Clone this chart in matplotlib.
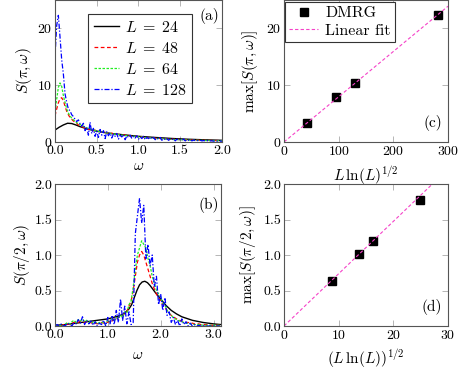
import numpy as np
import matplotlib
matplotlib.use("Agg")
import matplotlib.pyplot as plt

plt.rcParams['font.family'] = ['cmr10', 'DejaVu Serif']
plt.rcParams['mathtext.fontset'] = 'cm'
plt.rcParams['axes.formatter.use_mathtext'] = True
plt.rcParams['font.size'] = 10

# ---------------- data ----------------
# panel (a): S(pi, omega)
w_a = np.linspace(0.0, 2.0, 101)
w_a24 = [0, 0.05, 0.1, 0.15, 0.2, 0.25, 0.3, 0.4, 0.5, 0.6, 0.7, 0.8, 0.9, 1.0,
         1.2, 1.4, 1.6, 1.8, 2.0]
s_a24 = [2.1, 2.6, 3.0, 3.3, 3.25, 3.0, 2.7, 2.25, 1.9, 1.65, 1.45, 1.3, 1.15, 1.0,
         0.8, 0.62, 0.48, 0.38, 0.3]
s_a48 = [4.6, 5.8, 6.9, 7.6, 7.8, 7.3, 6.3, 5.4, 4.8, 4.3, 4.0, 3.7, 3.5, 3.3, 3.0,
         2.9, 2.7, 2.6, 2.5, 2.4, 2.2, 2.3, 2.1, 2.0, 2.1, 1.9, 1.85, 1.9, 1.75, 1.8,
         1.7, 1.6, 1.65, 1.5, 1.55, 1.45, 1.4, 1.45, 1.3, 1.35, 1.25, 1.2, 1.25, 1.1,
         1.15, 1.05, 1.0, 1.05, 0.95, 1.0, 0.9, 0.88, 0.92, 0.82, 0.85, 0.78, 0.75,
         0.8, 0.7, 0.72, 0.66, 0.64, 0.68, 0.6, 0.62, 0.56, 0.55, 0.58, 0.5, 0.52,
         0.48, 0.46, 0.5, 0.44, 0.45, 0.41, 0.4, 0.43, 0.38, 0.39, 0.36, 0.35, 0.37,
         0.33, 0.34, 0.32, 0.31, 0.33, 0.3, 0.3, 0.28, 0.28, 0.29, 0.27, 0.27, 0.26,
         0.25, 0.26, 0.25, 0.24, 0.24]
s_a64 = [5.4, 7.5, 9.6, 10.4, 9.8, 8.2, 7.0, 5.8, 5.1, 4.6, 4.2, 3.9, 3.7, 3.4, 3.2,
         3.1, 2.9, 2.8, 2.6, 2.5, 2.4, 2.3, 2.2, 2.2, 2.0, 2.0, 1.9, 1.85, 1.8, 1.75,
         1.7, 1.6, 1.55, 1.5, 1.45, 1.4, 1.38, 1.3, 1.32, 1.25, 1.2, 1.22, 1.15,
         1.1, 1.12, 1.05, 1.0, 1.02, 0.95, 0.92, 0.9, 0.85, 0.88, 0.8, 0.78, 0.76,
         0.72, 0.75, 0.68, 0.66, 0.64, 0.6, 0.63, 0.57, 0.55, 0.56, 0.5, 0.52, 0.48,
         0.46, 0.47, 0.43, 0.42, 0.44, 0.4, 0.38, 0.4, 0.36, 0.35, 0.36, 0.33, 0.32,
         0.33, 0.31, 0.3, 0.31, 0.29, 0.28, 0.29, 0.27, 0.27, 0.26, 0.27, 0.25, 0.25,
         0.24, 0.25, 0.23, 0.23, 0.22, 0.22]
s_a128 = [15.0, 20.5, 22.3, 18.5, 14.5, 12.0, 8.5, 7.0, 5.8, 5.5, 4.8, 4.5, 4.0, 3.6,
          3.9, 3.2, 2.8, 3.3, 2.0, 2.6, 1.2, 3.5, 1.5, 2.4, 1.0, 1.9, 0.8, 2.2, 1.2,
          2.0, 0.6, 1.8, 1.1, 1.6, 0.7, 1.4, 1.0, 1.5, 0.5, 1.2, 0.9, 1.3, 0.4, 1.1,
          0.8, 1.2, 0.6, 1.0, 0.7, 1.1, 0.5, 0.9, 0.6, 1.0, 0.4, 0.8, 0.6, 0.9, 0.5,
          0.8, 0.4, 0.7, 0.5, 0.8, 0.3, 0.6, 0.4, 0.6, 0.3, 0.5, 0.4, 0.6, 0.2, 0.5,
          0.3, 0.4, 0.3, 0.5, 0.2, 0.4, 0.3, 0.4, 0.2, 0.35, 0.25, 0.3, 0.2, 0.3,
          0.2, 0.25, 0.2, 0.25, 0.15, 0.2, 0.2, 0.15, 0.2, 0.15, 0.2, 0.15, 0.15]

# panel (b): S(pi/2, omega)
w_b = np.linspace(0.0, 3.12, 79)
w_b24 = [0, 0.2, 0.4, 0.6, 0.8, 1.0, 1.1, 1.2, 1.3, 1.4, 1.45, 1.5, 1.55, 1.6, 1.65,
         1.7, 1.75, 1.8, 1.85, 1.9, 2.0, 2.1, 2.2, 2.3, 2.4, 2.6, 2.8, 3.0, 3.14]
s_b24 = [0.01, 0.02, 0.04, 0.06, 0.08, 0.1, 0.12, 0.14, 0.17, 0.24, 0.3, 0.4, 0.5,
         0.58, 0.62, 0.63, 0.61, 0.57, 0.52, 0.47, 0.38, 0.29, 0.22, 0.17, 0.13,
         0.08, 0.05, 0.03, 0.02]
s_b48 = [0.0, 0.0, 0.01, 0.0, 0.02, 0.01, 0.03, 0.02, 0.04, 0.05, 0.06, 0.05, 0.07,
         0.06, 0.05, 0.06, 0.04, 0.05, 0.03, 0.04, 0.03, 0.04, 0.05, 0.04, 0.06,
         0.05, 0.08, 0.07, 0.1, 0.09, 0.12, 0.13, 0.15, 0.18, 0.2, 0.28, 0.35, 0.5,
         0.7, 0.9, 1.0, 1.05, 1.0, 0.9, 0.8, 0.7, 0.6, 0.52, 0.45, 0.4, 0.35, 0.3,
         0.26, 0.22, 0.18, 0.15, 0.13, 0.11, 0.09, 0.08, 0.07, 0.06, 0.05, 0.05,
         0.04, 0.04, 0.03, 0.03, 0.03, 0.02, 0.02, 0.02, 0.02, 0.01, 0.01, 0.01,
         0.01, 0.01, 0.01]
s_b64 = [0.0, 0.01, 0.0, 0.02, 0.0, 0.03, 0.05, 0.03, 0.06, 0.08, 0.05, 0.09, 0.07,
         0.1, 0.06, 0.08, 0.05, 0.07, 0.04, 0.06, 0.03, 0.05, 0.04, 0.06, 0.03,
         0.08, 0.05, 0.1, 0.07, 0.12, 0.1, 0.16, 0.12, 0.2, 0.18, 0.3, 0.35, 0.55,
         0.8, 1.0, 1.1, 1.2, 1.15, 1.1, 0.95, 0.85, 0.7, 0.6, 0.5, 0.45, 0.4, 0.32,
         0.3, 0.22, 0.18, 0.15, 0.12, 0.1, 0.08, 0.07, 0.06, 0.05, 0.04, 0.04, 0.03,
         0.03, 0.02, 0.02, 0.02, 0.02, 0.01, 0.01, 0.01, 0.01, 0.01, 0.01, 0.01,
         0.01, 0.01]
s_b128 = [0.0, 0.02, 0.0, 0.03, 0.0, 0.01, 0.04, 0.02, 0.0, 0.05, 0.03, 0.09, 0.04,
          0.13, 0.02, 0.08, 0.03, 0.07, 0.01, 0.06, 0.0, 0.04, 0.02, 0.08, 0.0,
          0.12, 0.03, 0.15, 0.02, 0.22, 0.05, 0.38, 0.08, 0.28, 0.03, 0.2, 0.02,
          0.05, 1.3, 1.55, 1.8, 1.45, 1.7, 0.95, 1.15, 0.85, 1.0, 0.55, 0.7, 0.3,
          0.45, 0.22, 0.4, 0.15, 0.2, 0.05, 0.12, 0.02, 0.08, 0.0, 0.1, 0.02, 0.06,
          0.0, 0.04, 0.0, 0.02, 0.0, 0.01, 0.0, 0.01, 0.0, 0.0, 0.0, 0.0, 0.0, 0.0,
          0.0, 0.0]

# panel (c) and (d): maxima vs scaling variable
x_c = [42.8, 94.4, 130.5, 281.9]
y_c = [3.3, 7.9, 10.4, 22.3]
fit_c_x = [0, 300]
fit_c_y = [0.0, 23.9]
x_d = [8.73, 13.63, 16.31, 24.92]
y_d = [0.63, 1.01, 1.20, 1.78]
fit_d_x = [0, 30]
fit_d_y = [0.0, 2.21]

labels = [r'$L\;=\;24$', r'$L\;=\;48$', r'$L\;=\;64$', r'$L\;=\;128$']

# ---------------- figure ----------------
W, H = 464, 375
fig = plt.figure(figsize=(W / 100, H / 100), dpi=100)


def ax_px(l, t, r, b):
    return fig.add_axes([l / W, 1 - b / H, (r - l) / W, (b - t) / H])


frame_col = '#555555'
tick_col = '#aaaaaa'
TICK_FS = 10
LAB_FS = 11
LEG_FS = 11.5


def style(ax):
    for s in ax.spines.values():
        s.set_color(frame_col)
        s.set_linewidth(0.8)
    ax.tick_params(direction='in', length=4, width=0.6, color=tick_col,
                   top=True, right=True, labelsize=TICK_FS, pad=2)


styles = [dict(color='black', ls='-', lw=1.0),
          dict(color='red', ls=(0, (3, 2)), lw=0.9),
          dict(color='#22ee22', ls=(0, (2, 1.2)), lw=0.9),
          dict(color='blue', ls=(0, (4, 1.5, 1, 1.5)), lw=0.9)]

# (a)
axa = ax_px(55, 0, 222, 142)
style(axa)
axa.plot(w_a24, s_a24, label=labels[0], **styles[0])
axa.plot(w_a, s_a48, label=labels[1], **styles[1])
axa.plot(w_a, s_a64, label=labels[2], **styles[2])
axa.plot(w_a, s_a128, label=labels[3], **styles[3])
axa.set_xlim(0, 2)
axa.set_ylim(0, 25)
axa.set_xticks([0, 0.5, 1.0, 1.5, 2.0])
axa.set_xticklabels(['0.0', '0.5', '1.0', '1.5', '2.0'])
axa.set_yticks([0, 10, 20])
axa.set_xlabel(r'$\omega$', fontsize=LAB_FS, labelpad=2)
axa.set_ylabel(r'$S(\pi,\omega)$', fontsize=LAB_FS, labelpad=2)
leg = axa.legend(loc='upper left', bbox_to_anchor=((88 - 55) / 167, 1 - 14 / 142),
                 fancybox=False, edgecolor='#333333', framealpha=1, fontsize=LEG_FS,
                 handlelength=1.6, handletextpad=0.35, labelspacing=0.38,
                 borderpad=0.35, borderaxespad=0)
leg.get_frame().set_linewidth(0.8)
axa.text(0.985, 0.885, '(a)', transform=axa.transAxes, ha='right', va='center',
         fontsize=LAB_FS)

# (b)
axb = ax_px(55, 184, 221, 326)
style(axb)
axb.plot(w_b24, s_b24, **styles[0])
axb.plot(w_b, s_b48, **styles[1])
axb.plot(w_b, s_b64, **styles[2])
axb.plot(w_b, s_b128, **styles[3])
axb.set_xlim(0, np.pi)
axb.set_ylim(0, 2)
axb.set_xticks([0, 1, 2, 3])
axb.set_xticklabels(['0.0', '1.0', '2.0', '3.0'])
axb.set_yticks([0, 0.5, 1.0, 1.5, 2.0])
axb.set_yticklabels(['0.0', '0.5', '1.0', '1.5', '2.0'])
axb.set_xlabel(r'$\omega$', fontsize=LAB_FS, labelpad=5)
axb.set_ylabel(r'$S(\pi/2,\omega)$', fontsize=LAB_FS, labelpad=2)
axb.text(0.985, 0.85, '(b)', transform=axb.transAxes, ha='right', va='center',
         fontsize=LAB_FS)

pink = '#f542c8'

# (c)
axc = ax_px(284, 0, 448, 142)
style(axc)
axc.plot(x_c, y_c, ls='none', marker='s', ms=6, color='black', label='DMRG')
axc.plot(fit_c_x, fit_c_y, ls=(0, (3, 2)), color=pink, lw=0.8, label='Linear fit')
axc.set_xlim(0, 300)
axc.set_ylim(0, 25)
axc.set_xticks([0, 100, 200, 300])
axc.set_yticks([0, 10, 20])
axc.set_xlabel(r'$L\,\ln(L)^{1/2}$', fontsize=LAB_FS, labelpad=5)
axc.set_ylabel(r'$\max[S(\pi,\omega)]$', fontsize=LAB_FS, labelpad=4)
leg2 = axc.legend(loc='upper left', bbox_to_anchor=(0.008, 1 - 2 / 142),
                  fancybox=False, edgecolor='#333333', framealpha=1, fontsize=LEG_FS,
                  handlelength=1.8, handletextpad=0.45, labelspacing=0.2,
                  borderpad=0.25, borderaxespad=0, numpoints=1)
leg2.get_frame().set_linewidth(0.8)
axc.text(0.965, 0.135, '(c)', transform=axc.transAxes, ha='right', va='center',
         fontsize=LAB_FS)

# (d)
axd = ax_px(284, 184, 448, 326)
style(axd)
axd.plot(x_d, y_d, ls='none', marker='s', ms=6, color='black')
axd.plot(fit_d_x, fit_d_y, ls=(0, (3, 2)), color=pink, lw=0.8)
axd.set_xlim(0, 30)
axd.set_ylim(0, 2)
axd.set_xticks([0, 10, 20, 30])
axd.set_yticks([0, 0.5, 1.0, 1.5, 2.0])
axd.set_yticklabels(['0.0', '0.5', '1.0', '1.5', '2.0'])
axd.set_xlabel(r'$(L\,\ln(L))^{1/2}$', fontsize=LAB_FS, labelpad=4)
axd.set_ylabel(r'$\max[S(\pi/2,\omega)]$', fontsize=LAB_FS, labelpad=4)
axd.text(0.965, 0.135, '(d)', transform=axd.transAxes, ha='right', va='center',
         fontsize=LAB_FS)

fig.savefig('out.png', dpi=100)
